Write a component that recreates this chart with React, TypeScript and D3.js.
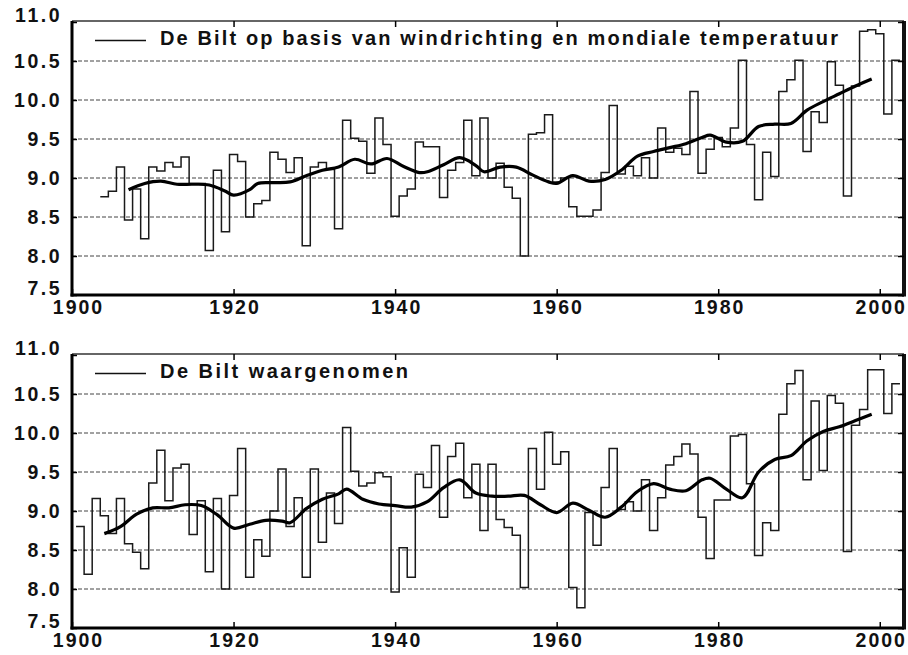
import React, { useEffect, useRef } from "react";
import * as d3 from "d3";

// jaargemiddelde temperatuur De Bilt (°C)
const firstYearTop = 1904;
const tempTop = [
  8.76, 8.83, 9.14, 8.46, 8.86, 8.22,
  9.14, 9.09, 9.2, 9.14, 9.27, 8.93, 8.93, 8.07, 9.1, 8.31,
  9.3, 9.21, 8.5, 8.67, 8.71, 9.33, 9.24, 9.07, 9.26, 8.13,
  9.14, 9.2, 9.11, 8.35, 9.74, 9.51, 9.47, 9.06, 9.77, 9.43,
  8.51, 8.77, 8.86, 9.46, 9.4, 9.4, 8.75, 9.1, 9.2, 9.74,
  9.03, 9.77, 9.0, 9.19, 8.88, 8.74, 8.0, 9.56, 9.58, 9.81,
  8.95, 9.0, 8.63, 8.51, 8.51, 8.59, 9.07, 9.93, 9.05, 9.15,
  9.03, 9.26, 9.0, 9.64, 9.33, 9.38, 9.3, 10.11, 9.06, 9.37,
  9.52, 9.4, 9.64, 10.51, 9.43, 8.72, 9.33, 9.02, 10.11, 10.26,
  10.51, 9.34, 9.85, 9.71, 10.49, 10.19, 8.77, 10.18, 10.88, 10.9,
  10.85, 9.82, 10.51,
];

const firstYearBottom = 1901;
const tempBottom = [
  8.8, 8.19, 9.16, 8.94, 8.71, 9.16, 8.58, 8.47, 8.26,
  9.36, 9.78, 9.13, 9.55, 9.6, 8.7, 9.13, 8.22, 9.16, 8.0,
  9.2, 9.8, 8.15, 8.63, 8.42, 9.0, 9.54, 8.8, 9.17, 8.15,
  9.54, 8.6, 9.23, 8.84, 10.07, 9.51, 9.32, 9.36, 9.49, 9.44,
  7.96, 8.53, 8.15, 9.47, 9.3, 9.84, 8.92, 9.7, 9.87, 9.17,
  9.6, 8.75, 9.6, 8.89, 8.79, 8.69, 8.02, 9.8, 9.28, 10.01,
  9.6, 9.76, 8.02, 7.76, 8.98, 8.56, 9.3, 9.8, 9.02, 9.12,
  9.0, 9.4, 8.75, 9.17, 9.59, 9.7, 9.86, 9.73, 8.92, 8.39,
  9.14, 9.14, 9.96, 9.98, 9.35, 8.43, 8.85, 8.75, 10.24, 10.63,
  10.8, 9.4, 10.41, 9.52, 10.48, 10.38, 8.48, 10.1, 10.3, 10.81,
  10.81, 10.25, 10.63,
];

// gladgestreken lijn [jaar, waarde]
const smoothTop = [
  [1907, 8.85], [1909, 8.93], [1911, 8.96], [1913, 8.92], [1915, 8.92],
  [1917, 8.91], [1919, 8.83], [1920, 8.78], [1922, 8.85], [1923, 8.93],
  [1925, 8.94], [1927, 8.95], [1929, 9.03], [1931, 9.1], [1933, 9.14],
  [1935, 9.24], [1937, 9.18], [1939, 9.25], [1941, 9.15], [1943, 9.07],
  [1944, 9.08], [1946, 9.17], [1948, 9.26], [1950, 9.16], [1951, 9.08],
  [1953, 9.14], [1955, 9.14], [1957, 9.04], [1959, 8.95], [1960, 8.93],
  [1962, 9.03], [1964, 8.96], [1966, 8.98], [1968, 9.1], [1970, 9.28],
  [1972, 9.34], [1974, 9.39], [1976, 9.44], [1978, 9.52], [1979, 9.55],
  [1981, 9.46], [1983, 9.47], [1985, 9.66], [1987, 9.69], [1989, 9.7],
  [1991, 9.87], [1993, 9.98], [1995, 10.08], [1997, 10.18], [1999, 10.27],
];

const smoothBottom = [
  [1904, 8.71], [1906, 8.8], [1908, 8.96], [1910, 9.04], [1912, 9.04],
  [1914, 9.08], [1916, 9.07], [1918, 8.95], [1920, 8.78], [1922, 8.83],
  [1924, 8.88], [1926, 8.87], [1927, 8.85], [1929, 9.03], [1931, 9.15],
  [1933, 9.22], [1934, 9.28], [1936, 9.15], [1938, 9.09], [1940, 9.07],
  [1942, 9.05], [1944, 9.12], [1946, 9.3], [1948, 9.4], [1950, 9.23],
  [1952, 9.19], [1954, 9.19], [1956, 9.2], [1958, 9.08], [1960, 8.98],
  [1962, 9.1], [1964, 9.01], [1966, 8.92], [1968, 9.05], [1970, 9.25],
  [1972, 9.35], [1974, 9.28], [1976, 9.26], [1978, 9.4], [1979, 9.42],
  [1981, 9.28], [1983, 9.17], [1985, 9.5], [1987, 9.66], [1989, 9.71],
  [1991, 9.9], [1993, 10.02], [1995, 10.08], [1997, 10.16], [1999, 10.24],
];

const legendTop = "De Bilt op basis van windrichting en mondiale temperatuur";
const legendBottom = "De Bilt waargenomen";

const yTicks = [7.5, 8, 8.5, 9, 9.5, 10, 10.5, 11];
const gridValues = [8, 8.5, 9, 9.5, 10, 10.5];
const xTicks = [1900, 1920, 1940, 1960, 1980, 2000];

const W = 908;
const H = 655;
const FONT = "'Liberation Sans', Arial, Helvetica, sans-serif";

const App = () => {
  const svgRef = useRef<SVGSVGElement>(null);

  useEffect(() => {
    const svg = d3.select(svgRef.current);
    svg.selectAll("*").remove();

    const x = d3.scaleLinear().domain([1900, 2003]).range([72, 904]);

    const panels = [
      { top: 22, bottom: 295, first: firstYearTop, values: tempTop, smooth: smoothTop, legend: legendTop, legendWidth: 678 },
      { top: 355, bottom: 628, first: firstYearBottom, values: tempBottom, smooth: smoothBottom, legend: legendBottom, legendWidth: 248 },
    ];

    panels.forEach((p) => {
      const y = d3.scaleLinear().domain([7.5, 11]).range([p.bottom, p.top]);
      const g = svg.append("g");
      const [x0, x1] = x.range();

      // stippellijnen
      g.selectAll("line.grid")
        .data(gridValues)
        .join("line")
        .attr("class", "grid")
        .attr("x1", x0)
        .attr("x2", x1)
        .attr("y1", (d) => y(d))
        .attr("y2", (d) => y(d))
        .attr("stroke", "#444")
        .attr("stroke-width", 1)
        .attr("stroke-dasharray", "4 2");

      // jaarwaarden als trappen
      const pts = p.values.flatMap((v, i) => [
        [p.first + i - 0.5, v],
        [p.first + i + 0.5, v],
      ]);
      const stepLine = d3.line<number[]>().x((d) => x(d[0])).y((d) => y(d[1]));
      g.append("path")
        .attr("d", stepLine(pts))
        .attr("fill", "none")
        .attr("stroke", "#1a1a1a")
        .attr("stroke-width", 1.5);

      // gladde lijn
      const smoothLine = d3
        .line<number[]>()
        .curve(d3.curveCatmullRom.alpha(0.5))
        .x((d) => x(d[0]))
        .y((d) => y(d[1]));
      g.append("path")
        .attr("d", smoothLine(p.smooth))
        .attr("fill", "none")
        .attr("stroke", "#000")
        .attr("stroke-width", 3.2)
        .attr("stroke-linejoin", "round");

      // kader
      g.append("line").attr("x1", x0).attr("x2", x1).attr("y1", p.top - 1).attr("y2", p.top - 1)
        .attr("stroke", "#333").attr("stroke-width", 1.5);
      g.append("line").attr("x1", x0).attr("x2", x0).attr("y1", p.top - 1).attr("y2", p.bottom + 1.5)
        .attr("stroke", "#000").attr("stroke-width", 3);
      g.append("line").attr("x1", x0 - 1.5).attr("x2", x1).attr("y1", p.bottom).attr("y2", p.bottom)
        .attr("stroke", "#000").attr("stroke-width", 3);
      g.append("line").attr("x1", x1).attr("x2", x1).attr("y1", p.top - 1).attr("y2", p.bottom + 1.5)
        .attr("stroke", "#111").attr("stroke-width", 4);

      // y-as
      const yAxis = g.append("g")
        .attr("transform", `translate(${x0},0)`)
        .call(d3.axisLeft(y).tickValues(yTicks).tickFormat(d3.format(".1f")).tickSize(-5).tickPadding(10));
      yAxis.select(".domain").remove();
      yAxis.selectAll(".tick line").attr("stroke", "#000").attr("stroke-width", 1.5);
      yAxis.selectAll("text")
        .attr("font-family", FONT)
        .attr("font-size", 19.5)
        .attr("font-weight", "bold")
        .attr("fill", "#111")
        .style("letter-spacing", "2.5px")
        .attr("dy", (d: any) => (d === 11 || d === 7.5 ? "-0.05em" : "0.32em"));

      const yRight = g.append("g")
        .attr("transform", `translate(${x1},0)`)
        .call(d3.axisRight(y).tickValues(yTicks).tickFormat(() => "").tickSize(-6));
      yRight.select(".domain").remove();
      yRight.selectAll(".tick line").attr("stroke", "#000").attr("stroke-width", 1.5);

      // x-as
      const xAxis = g.append("g")
        .attr("transform", `translate(0,${p.bottom})`)
        .call(d3.axisBottom(x).tickValues(xTicks).tickFormat(d3.format("d")).tickSize(-6).tickPadding(5));
      xAxis.select(".domain").remove();
      xAxis.selectAll(".tick line").attr("stroke", "#000").attr("stroke-width", 1.5);
      xAxis.selectAll("text")
        .attr("font-family", FONT)
        .attr("font-size", 19.5)
        .attr("font-weight", "bold")
        .attr("fill", "#111")
        .style("letter-spacing", "2px")
        .attr("dx", (d: any) => (d === 1900 ? 6 : 1));

      const xTop = g.append("g")
        .attr("transform", `translate(0,${p.top - 1})`)
        .call(d3.axisTop(x).tickValues(xTicks.slice(1)).tickFormat(() => "").tickSize(-6));
      xTop.select(".domain").remove();
      xTop.selectAll(".tick line").attr("stroke", "#000").attr("stroke-width", 1.5);

      // legenda
      g.append("line")
        .attr("x1", 95)
        .attr("x2", 146)
        .attr("y1", p.top + 18.5)
        .attr("y2", p.top + 18.5)
        .attr("stroke", "#111")
        .attr("stroke-width", 1.5);
      g.append("text")
        .attr("x", 160)
        .attr("y", p.top + 23)
        .attr("font-family", FONT)
        .attr("font-size", 20)
        .attr("font-weight", "bold")
        .attr("fill", "#111")
        .attr("textLength", p.legendWidth)
        .attr("lengthAdjust", "spacing")
        .text(p.legend);
    });
  }, []);

  return (
    <svg
      ref={svgRef}
      width={W}
      height={H}
      style={{ position: "absolute", left: 0, top: 0, background: "#fff" }}
    />
  );
};

export default App;
